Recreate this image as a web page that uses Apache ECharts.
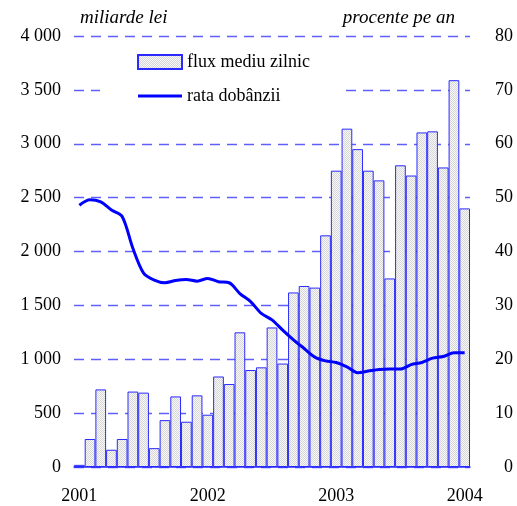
<!DOCTYPE html>
<html lang="ro">
<head>
    <meta charset="UTF-8">
    <title>flux mediu zilnic si rata dobanzii</title>
    <script src="https://cdn.jsdelivr.net/npm/echarts@6/dist/echarts.min.js"></script>
    <style>
        html, body { margin: 0; padding: 0; background: #fff; }
        #main { width: 517px; height: 506px; }
    </style>
</head>
<body>
<div id="main"></div>
<script type="text/javascript">
    // luni ian 2001 - ian 2004
    var months = [];
    for (var y = 2001; y <= 2004; y++) {
        for (var m = 1; m <= 12; m++) {
            if (y === 2004 && m > 1) break;
            months.push(y + '-' + (m < 10 ? '0' + m : m));
        }
    }
    // miliarde lei
    var flux = [20, 260, 720, 160, 260, 700, 690, 175, 435, 655, 420, 665,
                485, 840, 770, 1250, 900, 925, 1295, 960, 1620, 1680, 1665, 2150,
                2750, 3140, 2950, 2750, 2660, 1750, 2800, 2705, 3105, 3115, 2780, 3590,
                2400];
    // procente pe an
    var rata = [48.6, 49.6, 49.2, 47.7, 46.5, 40.6, 36.0, 34.7, 34.2, 34.6, 34.8, 34.5,
                35.0, 34.4, 34.2, 32.2, 30.7, 28.5, 27.3, 25.4, 23.6, 22.0, 20.4, 19.7,
                19.4, 18.6, 17.5, 17.8, 18.1, 18.2, 18.2, 19.0, 19.4, 20.2, 20.5, 21.2,
                21.2];

    var font = '"Liberation Serif", "Times New Roman", serif';

    // hasura punctata pentru bare
    var pat = document.createElement('canvas');
    pat.width = 2; pat.height = 2;
    var ctx = pat.getContext('2d');
    ctx.fillStyle = '#f8f8f8';
    ctx.fillRect(0, 0, 2, 2);
    ctx.fillStyle = '#d6d6d6';
    ctx.fillRect(0, 0, 1, 1);
    ctx.fillRect(1, 1, 1, 1);

    function fmtThousands(v) {
        var s = String(v);
        if (s.length > 3) s = s.slice(0, s.length - 3) + ' ' + s.slice(-3);
        return s;
    }

    var myChart = echarts.init(document.getElementById('main'));
    var option = {
        animation: false,
        backgroundColor: '#fff',
        title: [
            {
                text: 'miliarde lei', left: 80, top: 8, padding: 0,
                textStyle: { fontFamily: font, fontSize: 19, fontStyle: 'italic', fontWeight: 'normal', color: '#000' }
            },
            {
                text: 'procente pe an', right: 62, top: 8, padding: 0,
                textStyle: { fontFamily: font, fontSize: 19, fontStyle: 'italic', fontWeight: 'normal', color: '#000' }
            }
        ],
        legend: {
            orient: 'vertical',
            left: 100,
            top: 45,
            padding: [8, 35, 8, 37],
            backgroundColor: '#fff',
            itemWidth: 44,
            itemHeight: 14,
            itemGap: 16,
            textStyle: { fontFamily: font, fontSize: 18, color: '#000' },
            data: [
                { name: 'flux mediu zilnic', icon: 'rect' },
                { name: 'rata dobânzii', icon: 'path://M0,0 L44,0 L44,3 L0,3 Z' }
            ]
        },
        grid: { left: 74, right: 47, top: 36, bottom: 39 },
        xAxis: {
            type: 'category',
            data: months,
            boundaryGap: true,
            axisLine: { lineStyle: { color: '#2a2aff', width: 1.5 } },
            axisTick: {
                length: 7,
                lineStyle: { color: '#2a2aff', width: 1.2 },
                interval: function (i) { return i % 12 === 0; }
            },
            axisLabel: {
                margin: 20,
                fontFamily: font, fontSize: 18, color: '#000',
                interval: function (i) { return i % 12 === 0; },
                formatter: function (v) { return v.slice(0, 4); }
            },
            splitLine: { show: false }
        },
        yAxis: [
            {
                type: 'value', min: 0, max: 4000, interval: 500,
                axisLine: { show: false },
                axisTick: { show: false },
                axisLabel: {
                    margin: 13, fontFamily: font, fontSize: 18, color: '#000',
                    formatter: fmtThousands
                },
                splitLine: { lineStyle: { color: '#5f5fff', width: 1.3, type: [10, 7] } }
            },
            {
                type: 'value', min: 0, max: 80, interval: 10,
                axisLine: { show: false },
                axisTick: { show: false },
                axisLabel: {
                    margin: 43, align: 'right', fontFamily: font, fontSize: 18, color: '#000'
                },
                splitLine: { show: false }
            }
        ],
        series: [
            {
                name: 'flux mediu zilnic',
                type: 'bar',
                data: flux,
                barCategoryGap: '0%',
                itemStyle: {
                    color: { image: pat, repeat: 'repeat' },
                    borderColor: '#2a2aff',
                    borderWidth: 1
                }
            },
            {
                name: 'rata dobânzii',
                type: 'line',
                yAxisIndex: 1,
                data: rata,
                smooth: 0.3,
                symbol: 'none',
                lineStyle: { color: '#0000ff', width: 3 },
                itemStyle: { color: '#0000ff' },
                z: 5
            }
        ]
    };
    myChart.setOption(option);
</script>
</body>
</html>
